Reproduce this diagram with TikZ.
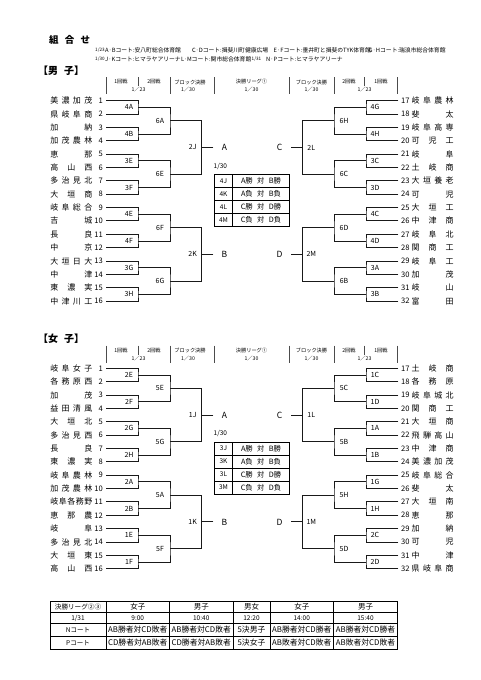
\documentclass[tikz,border=0pt]{standalone}
\usepackage{fontspec}
\setmainfont{Noto Sans CJK JP}
\newcommand\fsz[1]{\fontsize{#1}{#1}\selectfont}
\newcommand\jst[1]{\makebox[42pt][s]{\jstA#1\relax}}
\def\jstA#1{#1\futurelet\jnext\jstB}
\def\jstB{\ifx\jnext\relax\expandafter\jstEnd\else\hfill\expandafter\jstA\fi}
\def\jstEnd\relax{}
\newcommand\jstx[1]{\expandafter\jst\expandafter{#1}}
\newcommand\vsx[2]{#1\hspace{0.6em}対\hspace{0.6em}#2}
\tikzset{
  brk/.style={line width=0.9pt, line cap=rect, black!90},
  numtxt/.style={font=\fsz{7.6}, inner sep=0pt},
  nametxt/.style={font=\fsz{8}, inner sep=0pt},
  mlabel/.style={font=\fsz{7}, inner sep=0pt},
  lettr/.style={font=\fsz{8.5}, inner sep=0pt},
  hdr/.style={font=\fsz{5.2}, inner sep=0pt},
  bar/.style={line width=0.6pt, black!70},
  info/.style={font=\fsz{5.8}, inner sep=0pt, anchor=west},
  infod/.style={font=\fsz{4.6}, inner sep=0pt, anchor=west},
  tcell/.style={inner sep=0pt},
}
% one half of a bracket
\newcommand\half[8]{%
  \foreach \nm [count=\i] in {#3} {
    \pgfmathsetmacro\ty{#1+(\i-1)*13.36}
    \pgfmathtruncatemacro\tnum{#7+\i-1}
    \node[numtxt, anchor=#2] (#8n\i) at (103,\ty) {\tnum};
    \node[nametxt, anchor=#2] (#8t\i) at (92.5,\ty) {\jstx{\nm}};
    \coordinate (#8a\i) at (106,\ty);
  }
  \foreach \lb [count=\k] in {#4} {
    \pgfmathtruncatemacro\ta{2*\k-1}
    \pgfmathtruncatemacro\tb{2*\k}
    \pgfmathsetmacro\ym{#1+(2*\k-1.5)*13.36}
    \coordinate (#8p\k) at (138,\ym);
    \draw[brk] (#8a\ta) -| (#8p\k) |- (#8a\tb);
    \node[mlabel] (#8m\k) at (129,\ym) {\lb};
  }
  \foreach \lb [count=\k] in {#5} {
    \pgfmathtruncatemacro\ta{2*\k-1}
    \pgfmathtruncatemacro\tb{2*\k}
    \pgfmathsetmacro\ym{#1+(4*\k-2.5)*13.36}
    \coordinate (#8r\k) at (170,\ym);
    \draw[brk] (#8p\ta) -| (#8r\k) |- (#8p\tb);
    \node[mlabel] (#8q\k) at (160,\ym) {\lb};
  }
  \foreach \lb/\lt [count=\k] in {#6} {
    \pgfmathtruncatemacro\ta{2*\k-1}
    \pgfmathtruncatemacro\tb{2*\k}
    \pgfmathsetmacro\ym{#1+(8*\k-4.5)*13.36}
    \coordinate (#8s\k) at (201.7,\ym);
    \coordinate (#8e\k) at (213,\ym);
    \draw[brk] (#8r\ta) -| (#8s\k) |- (#8r\tb);
    \draw[brk] (#8s\k) -- (#8e\k);
    \node[mlabel] (#8u\k) at (192.7,\ym) {\lb};
    \node[lettr] (#8L\k) at (224.5,\ym) {\lt};
  }
}
% column headers
\newcommand\colheads[2]{%
  \foreach \xx [count=\c] in {106,170,214,289.5,334,397}
    \draw[bar] (\xx,#1-5) -- (\xx,#1+12);
  \foreach \xx in {138.5,364.5}
    \draw[bar] (\xx,#1-5) -- (\xx,#1+4);
  \foreach \tx/\xx [count=\c] in {1回戦/121,2回戦/154,ブロック決勝/190,決勝リーグ①/251.5,ブロック決勝/311.5,2回戦/349,1回戦/381}
    \node[hdr] (#2h\c) at (\xx,#1) {\tx};
  \foreach \tx/\xx [count=\c] in {1／23/138.5,1／30/188,1／30/251.5,1／30/311.5,1／23/364.5}
    \node[hdr] (#2d\c) at (\xx,#1+8) {\tx};
}
% league table
\newcommand\league[3]{%
  \node[anchor=west, font=\fsz{6.5}, inner sep=0pt] (#3date) at (213.5,#1-8.5) {1/30};
  \foreach \kk in {1,2,3} \draw[line width=0.5pt] (214.5,#1+13*\kk) -- (289,#1+13*\kk);
  \draw[line width=0.5pt] (232.5,#1) -- (232.5,#1+52);
  \draw[line width=1pt] (214.5,#1) rectangle (289,#1+52);
  \foreach \lb/\ttx [count=\k] in {#2} {
    \node[font=\fsz{6.5}, inner sep=0pt] (#3c\k) at (223.5,#1+13*\k-6.5) {\lb};
    \node[font=\fsz{7.3}, inner sep=0pt] (#3e\k) at (261,#1+13*\k-6.5) {\ttx};
  }
}
\begin{document}
\begin{tikzpicture}[x=1pt,y=-1pt]
\useasboundingbox (0,0) rectangle (481,680);
\fill[white] (0,0) rectangle (481,680);

% title and info
\node[anchor=west, inner sep=0pt, font=\fsz{9.5}\bfseries] (title) at (49,40) {\makebox[41pt][s]{組\hfill 合\hfill せ}};
\node[infod] (i1) at (95,50.5) {1/23};
\node[info] (i2) at (105,50.5) {A·Bコート:安八町総合体育館};
\node[info] (i3) at (192,50.5) {C·Dコート:揖斐川町健康広場};
\node[info] (i4) at (273.5,50.5) {E·Fコート:垂井町と揖斐のTYK体育館};
\node[info] (i5) at (368.5,50.5) {G·Hコート:瑞浪市総合体育館};
\node[infod] (i6) at (95,59) {1/30};
\node[info] (i7) at (105,59) {J·Kコート:ヒマラヤアリーナ};
\node[info] (i8) at (181,59) {L·Mコート:関市総合体育館};
\node[infod] (i9) at (251.5,59) {1/31};
\node[info] (i10) at (266,59) {N·Pコート:ヒマラヤアリーナ};

% ===== boys =====
\node[anchor=west, inner sep=0pt, font=\fsz{10}\bfseries] (boys) at (38,70.5) {【男\hspace{0.6em}子】};
\colheads{82}{bh}
\half{100.7}{east}{美濃加茂,県岐阜商,加納,加茂農林,恵那,高山西,多治見北,大垣商,岐阜総合,吉城,長良,中京,大垣日大,中津,東濃実,中津川工}{4A,4B,3E,3F,4E,4F,3G,3H}{6A,6E,6F,6G}{2J/A,2K/B}{1}{bl}
\begin{scope}[xshift=504pt,xscale=-1]
\half{100.7}{west}{岐阜農林,斐太,岐阜高専,可児工,岐阜,土岐商,大垣養老,可児,大垣工,中津商,岐阜北,関商工,岐阜工,加茂,岐山,富田}{4G,4H,3C,3D,4C,4D,3A,3B}{6H,6C,6D,6B}{2L/C,2M/D}{17}{br}
\end{scope}
\league{174.5}{4J/\vsx{A勝}{B勝},4K/\vsx{A負}{B負},4L/\vsx{C勝}{D勝},4M/\vsx{C負}{D負}}{bt}

% ===== girls =====
\node[anchor=west, inner sep=0pt, font=\fsz{10}\bfseries] (girls) at (38,338.5) {【女\hspace{0.6em}子】};
\colheads{350.5}{gh}
\half{368.3}{east}{岐阜女子,各務原西,加茂,益田清風,大垣北,多治見西,長良,東濃実,岐阜農林,加茂農林,岐阜各務野,恵那農,岐阜,多治見北,大垣東,高山西}{2E,2F,2G,2H,2A,2B,1E,1F}{5E,5G,5A,5F}{1J/A,1K/B}{1}{gl}
\begin{scope}[xshift=504pt,xscale=-1]
\half{368.3}{west}{土岐商,各務原,岐阜城北,関商工,大垣商,飛騨高山,中津商,美濃加茂,岐阜総合,斐太,大垣南,恵那,加納,可児,中津,県岐阜商}{1C,1D,1A,1B,1G,1H,2C,2D}{5C,5B,5H,5D}{1L/C,1M/D}{17}{gr}
\end{scope}
\league{442}{3J/\vsx{A勝}{B勝},3K/\vsx{A負}{B負},3L/\vsx{C勝}{D勝},3M/\vsx{C負}{D負}}{gt}

% ===== final league table =====
\foreach \yy in {612.5,623.5,636.5} \draw[line width=0.5pt] (50,\yy) -- (397.5,\yy);
\foreach \xx in {106,169.5,233,270,333.5} \draw[line width=0.5pt] (\xx,601.5) -- (\xx,649.5);
\draw[line width=1pt] (50,601.5) rectangle (397.5,649.5);
\node[tcell, font=\fsz{6.6}] (f11) at (78,607) {決勝リーグ②③};
\foreach \t/\cx [count=\c] in {女子/137.75,男子/201.25,男女/251.5,女子/301.75,男子/365.5}
  \node[tcell, font=\fsz{7.5}] (f1\c) at (\cx,607) {\t};
\node[tcell, font=\fsz{6.5}] (f21) at (78,618) {1/31};
\foreach \t/\cx [count=\c] in {9:00/137.75,10:40/201.25,12:20/251.5,14:00/301.75,15:40/365.5}
  \node[tcell, font=\fsz{6.5}] (f2\c) at (\cx,618) {\t};
\node[tcell, font=\fsz{6.5}] (f31) at (78,630) {Nコート};
\foreach \t/\cx [count=\c] in {AB勝者対CD敗者/137.75,AB勝者対CD敗者/201.25,5決男子/251.5,AB勝者対CD勝者/301.75,AB勝者対CD勝者/365.5}
  \node[tcell, font=\fsz{7.8}] (f3\c) at (\cx,630) {\t};
\node[tcell, font=\fsz{6.5}] (f41) at (78,643) {Pコート};
\foreach \t/\cx [count=\c] in {CD勝者対AB敗者/137.75,CD勝者対AB敗者/201.25,5決女子/251.5,AB敗者対CD敗者/301.75,AB敗者対CD敗者/365.5}
  \node[tcell, font=\fsz{7.8}] (f4\c) at (\cx,643) {\t};
\end{tikzpicture}
\end{document}
